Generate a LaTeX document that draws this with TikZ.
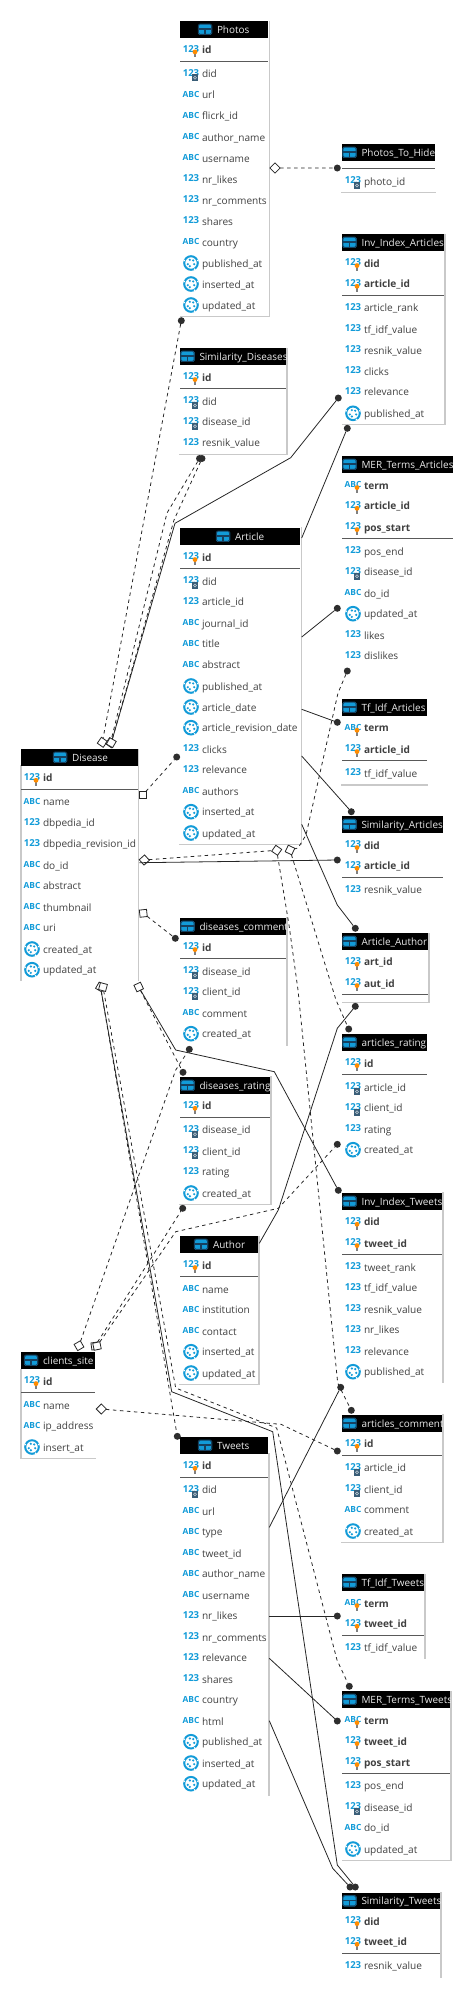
\documentclass[tikz,border=0pt]{standalone}
\usepackage{fontspec}
\setmainfont{Open Sans}
\definecolor{iconblue}{HTML}{129BD8}
\definecolor{icondark}{HTML}{16405F}
\definecolor{bordergrey}{HTML}{C9C9C9}
\definecolor{rowgrey}{HTML}{404040}
\tikzset{numicon/.pic={
        code={
            \node[icontext] (t) at (8,-0.7) {123};
    }
  }
}
\tikzset{abcicon/.pic={
        code={
            \node[icontext,font=\fontsize{8.4}{8}\selectfont\bfseries] (t) at (8,-0.7) {ABC};
    }
  }
}
\tikzset{dateicon/.pic={
        code={
            \draw[iconblue,line width=2pt,fill=white] (8,0) circle (6.8);
            \foreach \ang in {20,110,160,250,310}
                \fill[iconblue] (8,0) ++ (\ang:3.4) circle (1.2);
            \foreach \ang in {60,200,340}
                \fill[white] (8,0) ++ (\ang:7.2) circle (0.9);
    }
  }
}
\tikzset{keymark/.pic={
        code={
            \fill[gray] (11.2,2) rectangle (12.8,8);
            \fill[orange!90!yellow] (12,2.6) circle (2.4);
    }
  }
}
\tikzset{fkmark/.pic={
        code={
            \fill[icondark!85!white] (8.6,1) rectangle (15.4,8);
            \draw[white!75!icondark,line width=0.6pt] (12,4.5) circle (1.5);
    }
  }
}
\tikzset{numkey/.pic={code={\pic {numicon}; \pic {keymark};}}}
\tikzset{abckey/.pic={code={\pic {abcicon}; \pic {keymark};}}}
\tikzset{numfk/.pic={code={\pic {numicon}; \pic {fkmark};}}}
\tikzset{tableicon/.pic={
        code={
            \fill[iconblue,rounded corners=1.5pt] (0,-5.5) rectangle (14,5.5);
            \draw[icondark,line width=0.9pt,rounded corners=1.5pt] (0.4,-5.1) rectangle (13.6,5.1);
            \fill[icondark] (0,-1) rectangle (14,0.6);
            \fill[icondark] (6.4,0) rectangle (7.6,5.5);
    }
  }
}
\tikzset{
    icontext/.style={font=\fontsize{9.6}{9.4}\selectfont\bfseries,text=iconblue,inner sep=0,outer sep=0},
    rowtext/.style={font=\fontsize{10.1}{11}\selectfont,text=rowgrey,inner sep=0,outer sep=0,anchor=base west},
    headbox/.style={fill=black,inner sep=0,outer sep=0,minimum height=16.7pt,anchor=north west},
    headtext/.style={font=\fontsize{9.95}{11}\selectfont,text=white!92!black,inner sep=0,outer sep=0,anchor=base west},
    tblborder/.style={draw=bordergrey,line width=1.3pt},
    sepline/.style={draw=black!65,line width=0.7pt},
    rel/.style={draw=black!85,line width=0.8pt},
    reldash/.style={rel,dash pattern=on 3.5pt off 3.5pt},
    fkdot/.style={circle,fill=black!82,inner sep=0,outer sep=0,minimum size=7pt},
    endmark/.style={rectangle,draw=black!85,fill=white,line width=0.8pt,inner sep=0,outer sep=0,minimum size=7.2pt},
}
% name, left, right, top, icon left, title
\newcommand{\dbheader}[6]{
    \node[headbox,minimum width={(#3-#2)*1pt}] (#1) at (#2,#4) {};
    \path (#5,#4+8.3) pic {tableicon};
    \begin{scope}
        \clip (#2,#4) rectangle (#3,#4+16.7);
        \node[headtext] (#1-title) at (#5+19,#4+12) {#6};
    \end{scope}
}
% name, left, list of y/icon/text
\newcommand{\dbrows}[3]{
    \foreach \ypos/\kind/\txt [count=\i] in {#3}{
        \path (#2+3,\ypos) pic (#1-icon\i) {\kind};
        \node[rowtext] (#1-\i) at (#2+22,\ypos+4) {\txt};
    }
}
\begin{document}
\begin{tikzpicture}[x=1pt,y=-1pt]
\useasboundingbox (0,0) rectangle (474,1998);
% Photos
\draw[tblborder] (269.3,20.7) |- (179.5,316.7);
\dbheader{photos}{180}{268}{21}{198}{Photos}
\draw[sepline] (180,61.3) -- (268,61.3);
\dbrows{photos}{180}{49.3/numkey/\textbf{id},73.3/numfk/did,94.7/abcicon/url,115.7/abcicon/flicrk\_id,137/abcicon/author\_name,158/abcicon/username,179/numicon/nr\_likes,200/numicon/nr\_comments,221/numicon/shares,242/abcicon/country,263/dateicon/published\_at,284/dateicon/inserted\_at,305/dateicon/updated\_at}
% Photos_To_Hide
\draw[tblborder] (341,192.7) -- (436,192.7);
\dbheader{hide}{342}{435}{144}{342.5}{Photos\_To\_Hide}
\draw[sepline] (342,168.7) -- (435,168.7);
\dbrows{hide}{342}{181/numfk/photo\_id}
% Inv_Index_Articles
\draw[tblborder] (445,233.5) |- (341.7,424.7);
\dbheader{invart}{342}{444}{234}{342.5}{Inv\_Index\_Articles}
\draw[sepline] (342,295.3) -- (444,295.3);
\dbrows{invart}{342}{263/numkey/\textbf{did},283.7/numkey/\textbf{article\_id},307.7/numicon/article\_rank,329/numicon/tf\_idf\_value,350/numicon/resnik\_value,371/numicon/clicks,391.7/numicon/relevance,413.3/dateicon/published\_at}
% Similarity_Diseases
\draw[tblborder] (286.9,347.5) |- (179,454.7);
\dbheader{simdis}{180}{286}{348}{180.5}{Similarity\_Diseases}
\draw[sepline] (180,388.7) -- (286,388.7);
\dbrows{simdis}{180}{377/numkey/\textbf{id},401/numfk/did,421.7/numfk/disease\_id,442.7/numicon/resnik\_value}
% MER_Terms_Articles
\dbheader{merart}{342}{453}{456}{342.5}{MER\_Terms\_Articles}
\draw[sepline] (342,538.3) -- (453,538.3);
\dbrows{merart}{342}{485/abckey/\textbf{term},505.7/numkey/\textbf{article\_id},527/numkey/\textbf{pos\_start},551/numicon/pos\_end,571.7/numfk/disease\_id,593/abcicon/do\_id,613.7/dateicon/updated\_at,635/numicon/likes,655.7/numicon/dislikes}
% Article
\draw[tblborder] (301.3,527) |- (179,844.3);
\dbheader{article}{180}{300}{528}{216}{Article}
\draw[sepline] (180,568.7) -- (300,568.7);
\dbrows{article}{180}{557/numkey/\textbf{id},581/numfk/did,601.7/numicon/article\_id,623/abcicon/journal\_id,643.7/abcicon/title,664.7/abcicon/abstract,686/dateicon/published\_at,707/dateicon/article\_date,727.7/dateicon/article\_revision\_date,749/numicon/clicks,769.7/numicon/relevance,791/abcicon/authors,811.7/dateicon/inserted\_at,833/dateicon/updated\_at}
% Tf_Idf_Articles
\draw[tblborder] (341,785) -- (428,785);
\dbheader{tfart}{342}{427}{699}{342.5}{Tf\_Idf\_Articles}
\draw[sepline] (342,760.3) -- (427,760.3);
\dbrows{tfart}{342}{727.7/abckey/\textbf{term},749/numkey/\textbf{article\_id},773/numicon/tf\_idf\_value}
% Similarity_Articles
\dbheader{simart}{342}{443}{816}{342.5}{Similarity\_Articles}
\draw[sepline] (342,877.3) -- (443,877.3);
\dbrows{simart}{342}{845/numkey/\textbf{did},865.7/numkey/\textbf{article\_id},889.7/numicon/resnik\_value}
% Disease
\draw[tblborder] (21,765) -- (21,981);
\draw[tblborder] (138.7,749) -- (138.7,981);
\dbheader{disease}{21}{137.7}{749}{53}{Disease}
\draw[sepline] (21,789.3) -- (137.7,789.3);
\dbrows{disease}{21}{777.7/numkey/\textbf{id},801.7/abcicon/name,822.7/numicon/dbpedia\_id,843.7/numicon/dbpedia\_revision\_id,865/abcicon/do\_id,885.7/abcicon/abstract,907/abcicon/thumbnail,927.7/abcicon/uri,949/dateicon/created\_at,969.7/dateicon/updated\_at}
% diseases_comment
\draw[tblborder] (287,917) -- (287,1046);
\dbheader{discom}{180}{286}{918}{180.5}{diseases\_comment}
\draw[sepline] (180,958.7) -- (286,958.7);
\dbrows{discom}{180}{947/numkey/\textbf{id},971/numfk/disease\_id,991.7/numfk/client\_id,1013/abcicon/comment,1033.7/dateicon/created\_at}
% Article_Author
\draw[tblborder] (429,933) |- (341.5,1002.7);
\dbheader{artaut}{342}{428}{933}{342.5}{Article\_Author}
\draw[sepline] (342,994.3) -- (428,994.3);
\dbrows{artaut}{342}{961.7/numkey/\textbf{art\_id},983/numkey/\textbf{aut\_id}}
% articles_rating
\dbheader{artrat}{342}{427}{1034}{342.5}{articles\_rating}
\draw[sepline] (342,1074.7) -- (427,1074.7);
\dbrows{artrat}{342}{1063/numkey/\textbf{id},1087/numfk/article\_id,1107.7/numfk/client\_id,1129/numicon/rating,1149.7/dateicon/created\_at}
% diseases_rating
\draw[tblborder] (271,1076) |- (179,1204.7);
\dbheader{disrat}{180}{270}{1077}{180.5}{diseases\_rating}
\draw[sepline] (180,1117.3) -- (270,1117.3);
\dbrows{disrat}{180}{1105.7/numkey/\textbf{id},1129.7/numfk/disease\_id,1151/numfk/client\_id,1171.7/numicon/rating,1193/dateicon/created\_at}
% Inv_Index_Tweets
\draw[tblborder] (443,1192) -- (443,1383);
\dbheader{invtwe}{342}{442}{1193}{342.5}{Inv\_Index\_Tweets}
\draw[sepline] (342,1254.7) -- (442,1254.7);
\dbrows{invtwe}{342}{1221.7/numkey/\textbf{did},1243/numkey/\textbf{tweet\_id},1267/numicon/tweet\_rank,1287.7/numicon/tf\_idf\_value,1309/numicon/resnik\_value,1329.7/numicon/nr\_likes,1351/numicon/relevance,1371.7/dateicon/published\_at}
% Author
\draw[tblborder] (259,1236) |- (179,1384.7);
\dbheader{author}{180}{258}{1236}{194}{Author}
\draw[sepline] (180,1276.3) -- (258,1276.3);
\dbrows{author}{180}{1265/numkey/\textbf{id},1289/abcicon/name,1309.7/abcicon/institution,1331/abcicon/contact,1351.7/dateicon/inserted\_at,1373/dateicon/updated\_at}
% clients_site
\draw[tblborder] (21,1369) |- (96,1458.7);
\dbheader{clients}{21}{95}{1352}{24}{clients\_site}
\draw[sepline] (21,1392.3) -- (95,1392.3);
\dbrows{clients}{21}{1381/numkey/\textbf{id},1405/abcicon/name,1425.7/abcicon/ip\_address,1447/dateicon/insert\_at}
% Tweets
\draw[tblborder] (269,1453) -- (269,1796);
\dbheader{tweets}{180}{268}{1437}{198}{Tweets}
\draw[sepline] (180,1477.3) -- (268,1477.3);
\dbrows{tweets}{180}{1465.7/numkey/\textbf{id},1489.7/numfk/did,1511/abcicon/url,1531.7/abcicon/type,1553/abcicon/tweet\_id,1573.7/abcicon/author\_name,1595/abcicon/username,1615.7/numicon/nr\_likes,1637/numicon/nr\_comments,1657.7/numicon/relevance,1679/numicon/shares,1699.7/abcicon/country,1721/abcicon/html,1741.7/dateicon/published\_at,1763/dateicon/inserted\_at,1783.7/dateicon/updated\_at}
% articles_comment
\draw[tblborder] (443,1414) |- (341,1542.7);
\dbheader{artcom}{342}{442}{1415}{342.5}{articles\_comment}
\draw[sepline] (342,1455.3) -- (442,1455.3);
\dbrows{artcom}{342}{1443.7/numkey/\textbf{id},1467.7/numfk/article\_id,1489/numfk/client\_id,1509.7/abcicon/comment,1531/dateicon/created\_at}
% Tf_Idf_Tweets
\draw[tblborder] (425,1574) -- (425,1659);
\dbheader{tftwe}{342}{424}{1574}{342.5}{Tf\_Idf\_Tweets}
\draw[sepline] (342,1635) -- (424,1635);
\dbrows{tftwe}{342}{1603/abckey/\textbf{term},1623.7/numkey/\textbf{tweet\_id},1647.7/numicon/tf\_idf\_value}
% MER_Terms_Tweets
\draw[tblborder] (451,1691) |- (342,1860.7);
\dbheader{mertwe}{342}{450}{1691}{342.5}{MER\_Terms\_Tweets}
\draw[sepline] (342,1773.7) -- (450,1773.7);
\dbrows{mertwe}{342}{1720/abckey/\textbf{term},1741/numkey/\textbf{tweet\_id},1762/numkey/\textbf{pos\_start},1785.7/numicon/pos\_end,1807/numfk/disease\_id,1827.7/abcicon/do\_id,1849/dateicon/updated\_at}
% Similarity_Tweets
\draw[tblborder] (441,1892) -- (441,1978);
\dbheader{simtwe}{342}{440}{1892.5}{342.5}{Similarity\_Tweets}
\draw[sepline] (342,1953.7) -- (440,1953.7);
\dbrows{simtwe}{342}{1921/numkey/\textbf{did},1941.7/numkey/\textbf{tweet\_id},1965.7/numicon/resnik\_value}
% Line ends
\node[endmark,rotate=45] (mk_photos) at (275,168) {};
\node[endmark,rotate=55] (mk_dis_a) at (102.3,742.3) {};
\node[endmark,rotate=55] (mk_dis_b) at (110.5,742.7) {};
\node[endmark,rotate=60] (mk_dis_c) at (111.3,742.7) {};
\node[endmark] (mk_dis_d) at (142.7,795) {};
\node[endmark,rotate=42] (mk_dis_e) at (144.3,860) {};
\node[endmark,rotate=6] (mk_dis_f) at (143.3,913.3) {};
\node[endmark,rotate=60] (mk_dis_g) at (100.5,987) {};
\node[endmark,rotate=75] (mk_dis_h) at (103,987) {};
\node[endmark,rotate=25] (mk_dis_i) at (138.7,987) {};
\node[endmark,rotate=55] (mk_art_a) at (276.7,850.3) {};
\node[endmark,rotate=65] (mk_art_b) at (290,850) {};
\node[endmark,rotate=30] (mk_cli_a) at (79,1345.7) {};
\node[endmark,rotate=8] (mk_cli_b) at (95,1346) {};
\node[endmark,rotate=12] (mk_cli_c) at (97,1346) {};
\node[endmark,rotate=45] (mk_cli_d) at (101.3,1409) {};
\node[fkdot] (dot_hide) at (337.3,168) {};
\node[fkdot] (dot_photos) at (181.3,320.7) {};
\node[fkdot] (dot_simdis_a) at (199.5,458.5) {};
\node[fkdot] (dot_simdis_b) at (202,458.5) {};
\node[fkdot] (dot_invart_a) at (338.3,398) {};
\node[fkdot] (dot_invart_b) at (347.3,428.3) {};
\node[fkdot] (dot_merart_a) at (337.3,608.3) {};
\node[fkdot] (dot_merart_b) at (347.3,671) {};
\node[fkdot] (dot_tfart) at (337.3,722.3) {};
\node[fkdot] (dot_article) at (176.7,757) {};
\node[fkdot] (dot_simart_a) at (351.3,811.7) {};
\node[fkdot] (dot_simart_b) at (337.3,860) {};
\node[fkdot] (dot_artaut_a) at (355.3,928.3) {};
\node[fkdot] (dot_discom_a) at (175.3,938.3) {};
\node[fkdot] (dot_artaut_b) at (355.3,1006.3) {};
\node[fkdot] (dot_artrat_a) at (348.7,1029) {};
\node[fkdot] (dot_discom_b) at (189.3,1049.3) {};
\node[fkdot] (dot_disrat_a) at (183,1072.3) {};
\node[fkdot] (dot_artrat_b) at (337.3,1144.3) {};
\node[fkdot] (dot_invtwe_a) at (338.3,1190.3) {};
\node[fkdot] (dot_disrat_b) at (182.7,1208.3) {};
\node[fkdot] (dot_invtwe_b) at (340.7,1387.3) {};
\node[fkdot] (dot_artcom_a) at (351.3,1410.3) {};
\node[fkdot] (dot_tweets) at (177.3,1436.3) {};
\node[fkdot] (dot_artcom_b) at (337.3,1451) {};
\node[fkdot] (dot_tftwe) at (337.3,1616) {};
\node[fkdot] (dot_mertwe_a) at (349.3,1686.3) {};
\node[fkdot] (dot_mertwe_b) at (337.3,1721) {};
\node[fkdot] (dot_simtwe_a) at (350,1887) {};
\node[fkdot] (dot_simtwe_b) at (355.3,1887) {};
% Free ends on the table sides
\coordinate (art_a) at (301.7,538);
\coordinate (art_b) at (301.7,637);
\coordinate (art_c) at (301.7,709.3);
\coordinate (art_d) at (301.7,756);
\coordinate (art_e) at (301.7,824.3);
\coordinate (dis_a) at (139.3,862.7);
\coordinate (aut_a) at (259.3,1243.3);
\coordinate (twe_a) at (269.3,1527.3);
\coordinate (twe_b) at (269.3,1616);
\coordinate (twe_c) at (269.3,1658.3);
\coordinate (twe_d) at (269.3,1720.7);
% Solid lines
\draw[rel] (dot_invart_a) -- (290.7,457.7) -- (175,523.3) -- (mk_dis_c);
\draw[rel] (art_a) -- (dot_invart_b);
\draw[rel] (art_b) -- (dot_merart_a);
\draw[rel] (art_c) -- (dot_tfart);
\draw[rel] (art_d) -- (dot_simart_a);
\draw[rel] (art_e) -- (337.3,905) -- (dot_artaut_a);
\draw[rel] (dis_a) -- (dot_simart_b);
\draw[rel] (mk_dis_i) -- (175.7,1050) -- (274.3,1071.7) -- (dot_invtwe_a);
\draw[rel] (aut_a) -- (278.3,1210) -- (337.3,1028.3) -- (dot_artaut_b);
\draw[rel] (mk_dis_g) -- (171.7,1391.7) -- (272.7,1431.7) -- (337.3,1865) -- (dot_simtwe_b);
\draw[rel] (twe_a) -- (dot_invtwe_b);
\draw[rel] (twe_b) -- (dot_tftwe);
\draw[rel] (twe_c) -- (dot_mertwe_b);
\draw[rel] (twe_d) -- (332.7,1868.3) -- (dot_simtwe_a);
% Dashed lines
\draw[reldash] (mk_photos) -- (dot_hide);
\draw[reldash] (dot_photos) -- (mk_dis_a);
\draw[reldash] (dot_simdis_a) -- (167,513) -- (mk_dis_b);
\draw[reldash] (dot_simdis_b) -- (174,520) -- (mk_dis_c);
\draw[reldash] (dot_merart_b) -- (338,693) -- (306,835) -- (298,848) -- (mk_art_b);
\draw[reldash] (mk_dis_e) -- (mk_art_a);
\draw[reldash] (mk_dis_d) -- (dot_article);
\draw[reldash] (mk_dis_f) -- (dot_discom_a);
\draw[reldash] (mk_art_a) -- (289,925) -- (298,990) -- (337.7,1383) -- (dot_artcom_a);
\draw[reldash] (mk_art_b) -- (336,1000) -- (dot_artrat_a);
\draw[reldash] (mk_dis_i) -- (dot_disrat_a);
\draw[reldash] (mk_cli_a) -- (175.7,1070) -- (dot_discom_b);
\draw[reldash] (mk_cli_b) -- (150,1260) -- (dot_disrat_b);
\draw[reldash] (mk_cli_c) -- (175.7,1231.7) -- (278.3,1208.3) -- (dot_artrat_b);
\draw[reldash] (mk_cli_d) -- (281,1424.3) -- (dot_artcom_b);
\draw[reldash] (mk_dis_h) -- (175.7,1388) -- (276.7,1428) -- (337,1660) -- (dot_mertwe_a);
\draw[reldash] (mk_dis_g) -- (dot_tweets);
\end{tikzpicture}
\end{document}
